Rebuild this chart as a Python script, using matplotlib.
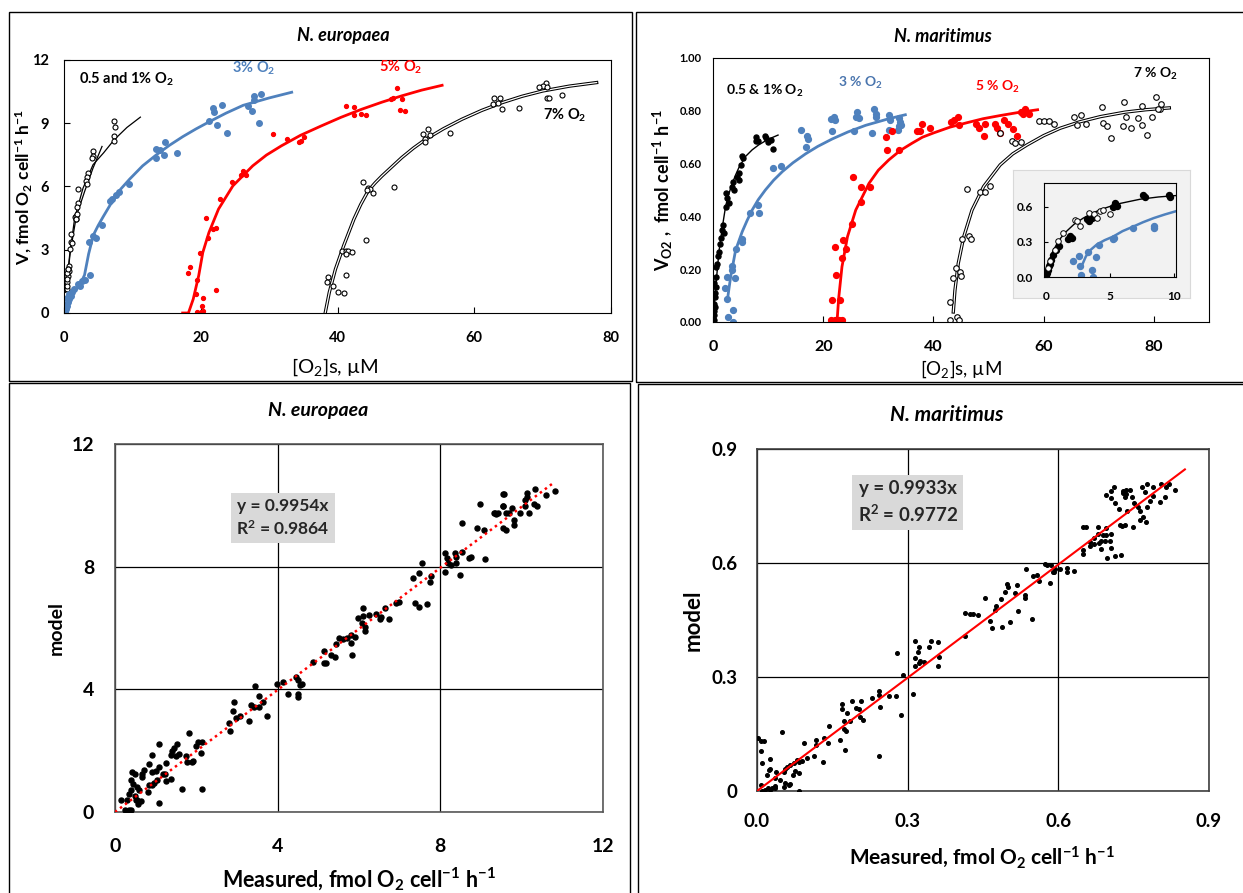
import matplotlib
matplotlib.use('Agg')
import matplotlib.pyplot as plt
from matplotlib.patches import Rectangle

plt.rcParams['font.family'] = ['Lato', 'DejaVu Sans']
plt.rcParams['font.weight'] = 'bold'
plt.rcParams['mathtext.default'] = 'regular'

W, H = 1243, 893
BLUE = '#4F81BD'
RED = '#FF0000'

# ---------------- data ----------------
# N. europaea, rate vs [O2] (top left)
eu_low_x = [7.35, 7.47, 7.35, 7.35, 4.29, 4.24, 4.12, 3.53, 3.41, 3.24, 3.41, 2.12, 2.06, 1.94,
            1.65, 1.76, 1.06, 1.06, 0.88, 0.71, 0.59, 0.59, 0.47, 0.41, 0.29, 0.18, 0.12, 0.06,
            1.8, 1.9, 1.7, 1.2, 0.8, 0.5, 0.45, 0.35, 0.25, 0.1, 0.05, 0.15, 0.05, 0.55, 0.4]
eu_low_y = [9.11, 8.80, 8.40, 8.16, 7.69, 7.45, 7.33, 6.66, 6.43, 6.27, 6.11, 5.87, 5.24, 5.01,
            4.53, 4.45, 3.74, 3.35, 3.03, 2.24, 2.08, 1.77, 1.45, 1.14, 0.82, 0.51, 0.27, 0.11,
            4.6, 4.7, 4.45, 3.3, 2.0, 1.9, 1.6, 0.9, 0.6, 0.35, 0.2, 0.0, 0.05, 2.1, 1.3]
eu_c1_x = [0, 0.34, 0.83, 1.56, 2.78, 4.24, 5.8, 7.32, 9.2, 11.17]
eu_c1_y = [0, 1.18, 2.76, 4.5, 5.92, 7.03, 7.6, 8.21, 8.8, 9.29]
eu_c2_x = [0, 0.34, 0.93, 1.8, 3.02, 4.24, 5.56]
eu_c2_y = [0, 1.18, 2.92, 4.58, 5.77, 6.87, 7.9]

eu_3_x = [28.8, 27.8, 27.8, 26.9, 27.5, 28.5, 23.1, 21.8, 21.9, 21.2, 22.4, 23.8, 14.8, 13.4, 14.1,
          13.5, 14.6, 16.5, 9.5, 8.06, 7.65, 7.06, 6.7, 5.6, 4.7, 4.2, 3.65, 3.8, 3.06, 2.65, 2.06,
          2.35, 1.47, 1.18, 1.06, 0.7, 0.6, 0.47, 0.29, 0.18, 0.35, 0.8, 0.5, 0.2]
eu_3_y = [10.4, 10.3, 10.1, 9.8, 9.6, 9.0, 9.85, 9.7, 9.55, 9.1, 8.9, 8.55, 8.13, 7.8, 7.74,
          7.37, 7.5, 7.58, 6.14, 5.72, 5.6, 5.4, 5.32, 4.17, 3.58, 3.66, 3.35, 1.82, 1.58, 1.5, 1.37,
          1.3, 1.14, 0.98, 0.82, 0.66, 0.5, 0.35, 0.19, 0.06, 0.27, 0.9, 0.7, 0.3]
eu_3c_x = [0, 0.5, 1.2, 2.2, 3.0, 3.6, 4.3, 5.0, 5.7, 7.2, 8.3, 9.6, 11.5, 13.5, 15.4, 17.4, 19.3,
           21.3, 23.7, 26.2, 30.0, 33.3]
eu_3c_y = [0, 0.5, 0.95, 1.25, 1.8, 2.8, 3.7, 4.15, 4.55, 5.37, 5.88, 6.35, 6.98, 7.5, 7.95, 8.37,
           8.73, 9.08, 9.48, 9.85, 10.2, 10.47]

eu_5_x = [48.7, 48.1, 47.8, 49.4, 49.1, 49.9, 41.2, 42.4, 42.4, 43.4, 44.1, 30.5, 32.6, 35.1, 34.7,
          34.4, 24.6, 26.2, 26.6, 25.9, 22.8, 20.7, 21.8, 22.2, 21.1, 19.9, 18.5, 18.2, 19.4, 19.3,
          20.4, 22.2, 20.2, 19.5, 20.0, 20.3]
eu_5_y = [10.65, 10.2, 10.14, 10.14, 9.62, 9.58, 9.82, 9.79, 9.38, 9.43, 9.4, 8.5, 8.24, 8.37, 8.16,
          8.12, 6.19, 6.74, 6.54, 6.54, 5.43, 4.5, 3.98, 4.01, 3.54, 2.84, 2.16, 1.88, 1.56, 0.9,
          0.69, 1.09, 0.35, 0.03, 0.03, 0.11]
eu_5c_x = [17.35, 18.2, 18.9, 19.7, 20.3, 21.2, 22.6, 24.7, 27.6, 29.6, 31.8, 34.6, 37.6, 40.5,
           43.5, 46.5, 49.4, 52.3, 55.3]
eu_5c_y = [0, 0, 0.66, 1.77, 2.87, 3.82, 4.93, 6.03, 6.98, 7.49, 7.93, 8.43, 8.87, 9.28, 9.66,
           10.0, 10.3, 10.57, 10.8]

eu_7_x = [70.5, 70.1, 70.7, 69.4, 70.7, 71.0, 72.9, 62.9, 63.8, 62.8, 63.5, 64.1, 66.5, 56.5, 52.5,
          53.2, 53.5, 52.8, 52.8, 48.2, 43.8, 44.4, 44.7, 44.3, 45.2, 44.2, 40.7, 41.2, 41.6, 42.1,
          41.3, 41.3, 38.6, 38.4, 39.4, 40.1, 40.9]
eu_7_y = [10.9, 10.77, 10.74, 10.74, 10.19, 10.2, 10.33, 10.22, 10.19, 9.93, 9.98, 9.66, 9.74, 8.56,
          8.48, 8.72, 8.43, 8.24, 8.12, 5.98, 6.19, 5.95, 5.87, 5.83, 5.68, 3.47, 2.95, 2.92, 2.92,
          2.87, 2.8, 1.8, 1.69, 1.45, 1.26, 1.01, 0.93]
eu_7c_x = [38.2, 38.8, 39.7, 40.9, 42.4, 43.4, 44.5, 45.5, 46.5, 48.0, 49.4, 51.1, 52.9, 55.5,
           58.2, 61.1, 64.1, 67.0, 70.0, 73.9, 77.9]
eu_7c_y = [0, 0.98, 2.08, 3.19, 4.45, 5.15, 5.8, 6.17, 6.5, 6.95, 7.37, 7.82, 8.24, 8.74, 9.19,
           9.61, 9.98, 10.28, 10.53, 10.76, 10.93]

# N. maritimus, rate vs [O2] (top right)
ma_low_x = [7.73, 8.16, 7.85, 9.43, 9.55, 10.6, 10.9, 10.0, 5.3, 5.44, 5.02, 4.7, 4.4, 4.7, 3.7,
            3.5, 3.8, 2.3, 2.6, 2.9, 2.3, 1.8, 1.7, 2.0, 1.2, 1.1, 0.8, 0.6, 0.48, 0.36, 0.3, 0.18,
            0.12, 0.24, 0.48, 0.12, 0.15, 0.05, 0.3, 0.9, 1.4]
ma_low_y = [0.70, 0.687, 0.684, 0.705, 0.696, 0.69, 0.654, 0.68, 0.63, 0.62, 0.595, 0.566, 0.55,
            0.538, 0.53, 0.513, 0.50, 0.487, 0.468, 0.45, 0.437, 0.367, 0.348, 0.338, 0.297, 0.266,
            0.22, 0.17, 0.133, 0.095, 0.057, 0.025, 0.006, 0.146, 0.21, 0.07, 0.04, 0.01, 0.11,
            0.25, 0.32]
ma_lowc_x = [0, 0.3, 0.7, 1.1, 1.7, 2.3, 2.9, 3.5, 4.1, 4.7, 5.9, 7.1, 8.3, 10.0, 11.8]
ma_lowc_y = [0, 0.08, 0.18, 0.27, 0.36, 0.44, 0.487, 0.525, 0.557, 0.585, 0.627, 0.652, 0.671,
             0.692, 0.708]

ma_3_x = [21.9, 21.5, 22.2, 26.2, 25.9, 26.5, 29.2, 29.5, 29.6, 31.9, 32.2, 33.7, 33.7, 33.6, 31.9,
          28.9, 25.5, 21.6, 15.9, 17.1, 17.3, 16.9, 10.9, 12.3, 8.2, 8.3, 6.8, 5.3, 5.2, 4.2, 3.5,
          3.4, 2.6, 4.0, 2.2, 2.6, 3.6, 2.8, 3.6, 33.9, 34.1]
ma_3_y = [0.775, 0.768, 0.766, 0.794, 0.778, 0.772, 0.806, 0.789, 0.778, 0.785, 0.766, 0.772, 0.741,
          0.728, 0.728, 0.715, 0.722, 0.722, 0.728, 0.703, 0.692, 0.662, 0.582, 0.591, 0.443, 0.414,
          0.414, 0.316, 0.304, 0.275, 0.211, 0.196, 0.171, 0.167, 0.13, 0.089, 0.047, 0.019, 0.0,
          0.757, 0.745]
ma_3c_x = [2.6, 3.2, 4.1, 5.3, 6.2, 7.1, 8.2, 9.5, 11.0, 12.6, 14.5, 16.8, 19.0, 21.6, 24.5, 27.7,
           31.9, 34.9]
ma_3c_y = [0.082, 0.171, 0.272, 0.342, 0.385, 0.424, 0.463, 0.5, 0.537, 0.57, 0.603, 0.637, 0.665,
           0.693, 0.72, 0.745, 0.77, 0.785]

ma_5_x = [21.5, 22.1, 22.8, 23.4, 21.6, 23.0, 22.4, 22.2, 23.4, 24.2, 23.6, 25.3, 26.9, 26.8, 28.4,
          25.4, 31.6, 33.7, 31.4, 32.4, 37.0, 37.9, 37.6, 39.4, 43.2, 43.8, 44.5, 44.7, 47.8, 48.3,
          49.1, 49.4, 51.2, 51.5, 52.1, 52.8, 53.6, 54.5, 55.2, 55.9, 56.7, 57.3, 56.2]
ma_5_y = [0.009, 0.009, 0.009, 0.009, 0.085, 0.085, 0.177, 0.285, 0.244, 0.276, 0.31, 0.371, 0.456,
          0.513, 0.513, 0.548, 0.652, 0.652, 0.70, 0.724, 0.725, 0.75, 0.724, 0.734, 0.759, 0.766,
          0.778, 0.747, 0.751, 0.734, 0.705, 0.751, 0.751, 0.734, 0.715, 0.766, 0.751, 0.73, 0.705,
          0.797, 0.806, 0.787, 0.789]
ma_5c_x = [22.5, 22.8, 23.4, 24.4, 25.9, 28.3, 30.0, 31.9, 34.0, 36.1, 38.0, 40.0, 43.0, 46.1,
           49.0, 52.1, 55.5, 58.9]
ma_5c_y = [0, 0.089, 0.209, 0.323, 0.424, 0.525, 0.575, 0.614, 0.65, 0.677, 0.70, 0.716, 0.738,
           0.755, 0.77, 0.782, 0.794, 0.804]

ma_7_x = [43.0, 44.2, 44.7, 43.0, 43.5, 44.1, 44.8, 45.0, 45.2, 46.5, 46.8, 46.1, 48.5, 49.4, 50.2,
          52.1, 54.2, 54.8, 55.9, 59.1, 60.1, 60.9, 61.9, 65.5, 66.7, 66.1, 67.6, 70.6, 70.8, 71.5,
          72.2, 74.5, 74.4, 75.0, 75.9, 77.1, 77.8, 77.9, 78.7, 79.6, 80.3, 81.1, 81.3, 80.7]
ma_7_y = [0.009, 0.019, 0.006, 0.076, 0.168, 0.203, 0.19, 0.173, 0.313, 0.325, 0.316, 0.503, 0.494,
          0.494, 0.515, 0.715, 0.684, 0.677, 0.68, 0.763, 0.762, 0.763, 0.751, 0.776, 0.785, 0.747,
          0.751, 0.814, 0.753, 0.743, 0.696, 0.832, 0.743, 0.775, 0.735, 0.771, 0.817, 0.746, 0.71,
          0.775, 0.853, 0.805, 0.825, 0.805]
ma_7c_x = [43.6, 43.9, 44.5, 45.5, 47.0, 49.1, 52.1, 54.4, 57.0, 60.0, 63.0, 66.5, 70.3, 74.8,
           78.5, 82.8]
ma_7c_y = [0.038, 0.12, 0.222, 0.323, 0.424, 0.513, 0.595, 0.637, 0.671, 0.706, 0.734, 0.758,
           0.778, 0.795, 0.804, 0.811]

# inset, 0-10 uM
in_fill_x = [7.64, 7.77, 9.6, 9.69, 5.42, 5.55, 5.29, 3.59, 3.4, 3.25, 1.88, 1.75, 2.02, 1.05, 0.84,
             0.58, 0.45, 0.26, 0.18, 0.1, 0.05, 0.3]
in_fill_y = [0.70, 0.685, 0.70, 0.68, 0.628, 0.606, 0.592, 0.501, 0.473, 0.492, 0.345, 0.323, 0.331,
             0.266, 0.232, 0.19, 0.147, 0.096, 0.062, 0.034, 0.01, 0.11]
in_open_x = [2.28, 2.41, 3.4, 3.77, 4.24, 4.5, 5.03, 1.36, 0.97, 0.71, 0.31, 0.18, 2.67, 3.98]
in_open_y = [0.487, 0.473, 0.543, 0.538, 0.558, 0.566, 0.538, 0.374, 0.303, 0.232, 0.133, 0.076,
             0.436, 0.501]
in_blue_x = [2.15, 2.59, 2.67, 2.75, 3.32, 3.59, 3.66, 3.93, 4.19, 5.29, 5.37, 6.86, 8.43, 8.5]
in_blue_y = [0.133, 0.175, 0.09, 0.014, 0.209, 0.062, 0.0, 0.167, 0.275, 0.323, 0.331, 0.416, 0.43,
             0.416]
in_kc_x = [0, 0.1, 0.31, 0.55, 0.84, 1.2, 1.62, 2.2, 2.93, 3.6, 4.24, 5.55, 7.38, 8.8, 10.18]
in_kc_y = [0.006, 0.06, 0.147, 0.215, 0.275, 0.335, 0.388, 0.447, 0.501, 0.54, 0.572, 0.62, 0.662,
           0.681, 0.693]
in_bc_x = [2.8, 3.14, 3.5, 3.98, 4.6, 5.29, 6.0, 6.86, 7.6, 8.43, 9.3, 10.18]
in_bc_y = [0.09, 0.175, 0.23, 0.275, 0.313, 0.345, 0.39, 0.43, 0.466, 0.501, 0.532, 0.56]

# model vs measured, N. europaea (bottom left)
eu_meas = [9.56, 8.97, 9.34, 9.38, 9.54, 9.61, 8.54, 8.89, 9.07, 9.53, 8.11, 8.16, 8.35, 8.39, 8.54,
           8.71, 8.76, 8.19, 8.27, 8.39, 8.11, 8.49, 9.09, 7.56, 7.47, 7.33, 7.78, 7.74, 7.37, 7.47,
           7.67, 6.92, 6.98, 6.63, 6.73, 6.42, 6.55, 6.52, 6.09, 5.97, 6.09, 6.24, 6.08, 6.14, 6.14,
           5.89, 5.81, 5.7, 5.6, 5.52, 5.44, 5.81, 5.83, 4.86, 5.13, 5.13, 5.19, 5.31, 5.42, 4.44,
           4.49, 4.55, 4.6, 3.98, 4.14, 4.25, 4.49, 4.49, 3.45, 3.55, 3.34, 3.42, 3.55, 3.63, 2.93,
           2.91, 2.97, 3.07, 3.3, 3.74, 2.81, 2.83, 1.81, 2.03, 2.14, 1.99, 2.11, 1.89, 1.91, 1.74,
           1.78, 1.53, 1.45, 1.41, 1.58, 1.49, 1.37, 1.25, 1.07, 0.9, 0.84, 1.08, 1.17, 1.25, 1.37,
           1.23, 1.0, 0.92, 0.9, 0.96, 1.04, 0.71, 0.67, 0.66, 0.43, 0.49, 0.39, 0.44, 0.55, 0.59,
           0.39, 0.34, 0.49, 0.55, 0.63, 0.57, 0.51, 0.14, 0.3, 0.25, 0.34, 0.39, 1.64, 2.14, 1.07,
           0.84, 0.8, 10.59, 10.81, 10.32, 10.12, 10.14, 10.07, 10.3, 10.37, 10.17, 10.07, 9.97,
           9.77, 9.7, 9.82, 9.8, 9.62, 9.53, 9.43, 9.31, 9.55]
eu_model = [10.37, 10.03, 9.74, 9.72, 9.98, 9.76, 9.41, 9.27, 9.19, 9.25, 8.43, 8.27, 8.43, 8.32,
            8.49, 8.27, 8.3, 8.11, 8.05, 8.13, 7.81, 7.73, 8.25, 8.11, 7.78, 7.64, 7.69, 7.51, 6.82,
            6.69, 6.78, 6.82, 6.86, 6.64, 6.28, 6.45, 6.37, 6.28, 6.64, 6.31, 6.39, 6.42, 6.15, 6.02,
            5.91, 5.71, 5.77, 5.66, 5.63, 5.69, 5.47, 5.52, 5.11, 4.9, 5.26, 4.86, 4.86, 5.11, 5.04,
            4.41, 4.3, 4.13, 4.16, 4.19, 4.24, 3.84, 3.86, 3.75, 4.1, 3.78, 3.48, 3.43, 3.43, 3.59,
            3.59, 3.3, 3.08, 3.12, 2.97, 3.13, 2.91, 2.63, 2.56, 2.29, 2.29, 2.14, 1.94, 1.63, 1.66,
            1.82, 1.63, 2.21, 2.1, 1.99, 1.88, 1.82, 1.85, 1.6, 2.23, 1.85, 1.56, 1.47, 1.25, 1.01,
            1.09, 1.25, 1.33, 1.31, 0.87, 0.95, 1.03, 1.36, 1.14, 1.25, 1.31, 1.25, 1.03, 0.92, 0.82,
            0.71, 0.73, 0.6, 0.51, 0.4, 0.36, 0.27, 0.38, 0.38, 0.4, 0.05, 0.08, 0.05, 0.74, 0.74,
            0.3, 0.87, 0.65, 10.34, 10.47, 10.52, 10.39, 10.28, 10.17, 10.04, 9.98, 9.76, 9.98, 9.76,
            9.9, 9.74, 9.52, 9.36, 9.2, 9.98, 9.76, 9.76, 10.37]
eu_slope, eu_r2 = 0.9954, 0.9864
eu_fit_x = [0, 10.8]

# model vs measured, N. maritimus (bottom right)
ma_meas = [0.695, 0.705, 0.711, 0.704, 0.713, 0.728, 0.732, 0.735, 0.72, 0.737, 0.722, 0.726, 0.732,
           0.649, 0.656, 0.679, 0.695, 0.679, 0.689, 0.705, 0.672, 0.664, 0.671, 0.68, 0.685, 0.693,
           0.702, 0.685, 0.704, 0.649, 0.649, 0.697, 0.713, 0.725, 0.664, 0.695, 0.573, 0.578,
           0.536, 0.55, 0.558, 0.561, 0.583, 0.589, 0.594, 0.603, 0.618, 0.618, 0.632, 0.585, 0.592,
           0.497, 0.499, 0.517, 0.493, 0.513, 0.533, 0.533, 0.454, 0.485, 0.475, 0.474, 0.52, 0.503,
           0.468, 0.487, 0.464, 0.548, 0.414, 0.424, 0.43, 0.44, 0.414, 0.315, 0.322, 0.32, 0.315,
           0.325, 0.333, 0.347, 0.361, 0.342, 0.362, 0.36, 0.315, 0.322, 0.279, 0.29, 0.31, 0.242,
           0.243, 0.245, 0.228, 0.262, 0.276, 0.287, 0.207, 0.189, 0.17, 0.169, 0.179, 0.198, 0.203,
           0.205, 0.212, 0.185, 0.174, 0.174, 0.177, 0.144, 0.166, 0.176, 0.134, 0.141, 0.118,
           0.117, 0.114, 0.132, 0.093, 0.099, 0.089, 0.083, 0.079, 0.073, 0.066, 0.06, 0.075, 0.083,
           0.071, 0.053, 0.055, 0.038, 0.026, 0.02, 0.023, 0.05, 0.026, 0.001, 0.007, 0.013, 0.007,
           0.009, 0.243, 0.036, 0.046, 0.056, 0.063, 0.066, 0.053, 0.035, 0.03, 0.022, 0.026, 0.015,
           0.01, 0.083, 0.036, 0.007, 0.82, 0.814, 0.832, 0.805, 0.789, 0.776, 0.766, 0.772, 0.788,
           0.782, 0.777, 0.803, 0.813, 0.758, 0.762, 0.768, 0.774, 0.762, 0.749, 0.747, 0.751,
           0.743, 0.735, 0.729]
ma_model = [0.78, 0.789, 0.80, 0.77, 0.758, 0.789, 0.773, 0.782, 0.741, 0.736, 0.701, 0.697, 0.701,
            0.694, 0.694, 0.694, 0.692, 0.677, 0.675, 0.677, 0.666, 0.656, 0.649, 0.653, 0.657,
            0.657, 0.657, 0.638, 0.64, 0.633, 0.624, 0.612, 0.618, 0.62, 0.644, 0.675, 0.598, 0.594,
            0.584, 0.565, 0.569, 0.552, 0.547, 0.576, 0.583, 0.585, 0.587, 0.576, 0.58, 0.594, 0.576,
            0.545, 0.536, 0.541, 0.525, 0.521, 0.517, 0.508, 0.508, 0.506, 0.486, 0.477, 0.475,
            0.446, 0.429, 0.431, 0.448, 0.453, 0.468, 0.466, 0.466, 0.464, 0.407, 0.394, 0.378,
            0.366, 0.35, 0.343, 0.339, 0.394, 0.392, 0.378, 0.352, 0.328, 0.33, 0.337, 0.363, 0.306,
            0.255, 0.262, 0.253, 0.222, 0.246, 0.251, 0.251, 0.199, 0.237, 0.237, 0.228, 0.216,
            0.205, 0.218, 0.216, 0.196, 0.187, 0.183, 0.183, 0.163, 0.158, 0.172, 0.134, 0.108,
            0.139, 0.126, 0.134, 0.121, 0.093, 0.076, 0.126, 0.086, 0.079, 0.077, 0.082, 0.073,
            0.069, 0.064, 0.053, 0.047, 0.042, 0.051, 0.058, 0.051, 0.058, 0.042, 0.055, 0.155,
            0.084, 0.139, 0.132, 0.132, 0.105, 0.073, 0.091, 0.033, 0.029, 0.02, 0.016, 0.018, 0.011,
            0.014, 0.009, 0.007, 0.003, 0.003, 0.0, 0.001, 0.007, 0.016, 0.809, 0.80, 0.793, 0.809,
            0.80, 0.809, 0.80, 0.788, 0.777, 0.762, 0.747, 0.76, 0.775, 0.747, 0.736, 0.721, 0.709,
            0.714, 0.696, 0.774, 0.758, 0.793, 0.793, 0.784]
ma_slope, ma_r2 = 0.9933, 0.9772
ma_fit_x = [0, 0.852]

# tick labels
tl_xticks = [0, 20, 40, 60, 80]
tl_xlabels = ['0', '20', '40', '60', '80']
tl_yticks = [0, 3, 6, 9, 12]
tl_ylabels = ['0', '3', '6', '9', '12']
tr_xticks = [0, 20, 40, 60, 80]
tr_xlabels = ['0', '20', '40', '60', '80']
tr_yticks = [0, 0.2, 0.4, 0.6, 0.8, 1.0]
tr_ylabels = ['0.00', '0.20', '0.40', '0.60', '0.80', '1.00']
in_xticks = [0, 5, 10]
in_xlabels = ['0', '5', '10']
in_yticks = [0, 0.3, 0.6]
in_ylabels = ['0.0', '0.3', '0.6']
eu_ticks = [0, 4, 8, 12]
eu_ticklabels = ['0', '4', '8', '12']
ma_ticks = [0, 0.3, 0.6, 0.9]
ma_xticklabels = ['0.0', '0.3', '0.6', '0.9']
ma_yticklabels = ['0', '0.3', '0.6', '0.9']


# ---------------- helpers ----------------
def rect(x0, y0, x1, y1):
    return [x0 / W, 1 - y1 / H, (x1 - x0) / W, (y1 - y0) / H]


def ftext(x, y, s, **kw):
    kw.setdefault('ha', 'center')
    kw.setdefault('va', 'center')
    fig.text(x / W, 1 - y / H, s, **kw)


fig = plt.figure(figsize=(W / 100, H / 100), dpi=100)

# panel frames
for x0, y0, x1, y1 in [(9, 12, 632, 381), (636, 12, 1250, 382), (9, 383, 630, 900), (638, 384, 1250, 900)]:
    fig.patches.append(Rectangle((x0 / W, 1 - y1 / H), (x1 - x0) / W, (y1 - y0) / H,
                                 transform=fig.transFigure, fill=False, ec='black', lw=1.0))

# ---- top left: N. europaea kinetics ----
ax = fig.add_axes(rect(64, 60, 611, 313))
ax.plot(eu_c1_x, eu_c1_y, color='black', lw=0.9)
ax.plot(eu_c2_x, eu_c2_y, color='black', lw=0.9)
ax.plot(eu_low_x, eu_low_y, 'o', mfc='white', mec='black', mew=0.8, ms=3.6)
ax.plot(eu_3c_x, eu_3c_y, color=BLUE, lw=2.0)
ax.plot(eu_3_x, eu_3_y, 'o', color=BLUE, ms=4.0)
ax.plot(eu_5c_x, eu_5c_y, color=RED, lw=2.0)
ax.plot(eu_5_x, eu_5_y, 'o', color=RED, ms=2.8)
ax.plot(eu_7c_x, eu_7c_y, color='black', lw=2.4)
ax.plot(eu_7c_x, eu_7c_y, color='white', lw=0.9)
ax.plot(eu_7_x, eu_7_y, 'o', mfc='white', mec='black', mew=0.8, ms=3.6)
ax.set_xlim(0, 80)
ax.set_ylim(0, 12)
ax.set_xticks(tl_xticks, tl_xlabels)
ax.set_yticks(tl_yticks, tl_ylabels)
ax.tick_params(axis='x', direction='in', length=4, pad=13, labelsize=10.5)
ax.tick_params(axis='y', direction='in', length=4, pad=11, labelsize=10.5)
ax.text(2.2, 11.1, '0.5 and 1% O$_2$', fontsize=10.5, va='center')
ax.text(27.8, 11.6, '3% O$_2$', fontsize=10.5, color=BLUE, ha='center', va='center')
ax.text(49.2, 11.65, '5% O$_2$', fontsize=10.5, color=RED, ha='center', va='center')
ax.text(73.3, 9.4, '7% O$_2$', fontsize=10.5, ha='center', va='center')
ftext(343, 35, 'N. europaea', fontsize=13, style='italic')
ftext(335, 367, '[O$_2$]s, µM', fontsize=14.5, fontweight='normal')
ftext(24, 187, 'V, fmol O$_2$ cell$^{-1}$ h$^{-1}$', fontsize=12.5, rotation=90)

# ---- top right: N. maritimus kinetics ----
ax = fig.add_axes(rect(713, 58, 1209, 322))
ax.plot(ma_lowc_x, ma_lowc_y, color='black', lw=1.0)
ax.plot(ma_low_x, ma_low_y, 'o', color='black', ms=3.6)
ax.plot(ma_3c_x, ma_3c_y, color=BLUE, lw=2.0)
ax.plot(ma_3_x, ma_3_y, 'o', color=BLUE, ms=4.2)
ax.plot(ma_5c_x, ma_5c_y, color=RED, lw=2.0)
ax.plot(ma_5_x, ma_5_y, 'o', color=RED, ms=4.2)
ax.plot(ma_7c_x, ma_7c_y, color='black', lw=2.4)
ax.plot(ma_7c_x, ma_7c_y, color='white', lw=0.9)
ax.plot(ma_7_x, ma_7_y, 'o', mfc='white', mec='black', mew=0.8, ms=4.0)
ax.set_xlim(0, 90)
ax.set_ylim(0, 1.0)
ax.set_xticks(tr_xticks, tr_xlabels)
ax.set_yticks(tr_yticks, tr_ylabels)
ax.tick_params(axis='x', direction='in', length=4, pad=13, labelsize=11.5)
ax.tick_params(axis='y', direction='in', length=0, pad=8, labelsize=8)
ax.text(2.4, 0.875, '0.5 & 1% O$_2$', fontsize=10, va='center')
ax.text(26.8, 0.906, '3 % O$_2$', fontsize=10, color='#4A75AE', ha='center', va='center')
ax.text(51.6, 0.89, '5 % O$_2$', fontsize=10, color=RED, ha='center', va='center')
ax.text(80.2, 0.94, '7 % O$_2$', fontsize=10, ha='center', va='center')
ftext(943, 37, 'N. maritimus', fontsize=13, style='italic')
ftext(961, 369, '[O$_2$]s, µM', fontsize=13.5, fontweight='normal')
ftext(663, 190, 'V$_{O2}$ ,  fmol cell$^{-1}$ h$^{-1}$', fontsize=13, rotation=90)

# inset box and inset
box = fig.add_axes(rect(1013, 170, 1190, 298))
box.set_facecolor('#F2F2F2')
box.set_xticks([])
box.set_yticks([])
for s in box.spines.values():
    s.set_color('#D9D9D9')
box.set_zorder(2)
ax = fig.add_axes(rect(1044, 183, 1176, 277))
ax.set_zorder(3)
ax.set_facecolor('#F2F2F2')
ax.plot(in_kc_x, in_kc_y, color='black', lw=1.0)
ax.plot(in_bc_x, in_bc_y, color=BLUE, lw=1.8)
ax.plot(in_fill_x, in_fill_y, 'o', color='black', ms=4.3)
ax.plot(in_open_x, in_open_y, 'o', mfc='white', mec='black', mew=0.7, ms=4.0)
ax.plot(in_blue_x, in_blue_y, 'o', color=BLUE, ms=4.3)
ax.set_xlim(-0.13, 10.18)
ax.set_ylim(0, 0.8)
ax.set_xticks(in_xticks, in_xlabels)
ax.set_yticks(in_yticks, in_ylabels)
ax.tick_params(axis='x', direction='in', length=3, pad=10, labelsize=8.5)
ax.tick_params(axis='y', direction='in', length=3, pad=8, labelsize=8.5)

# ---- bottom left: model vs measured, N. europaea ----
ax = fig.add_axes(rect(115, 444, 603, 812))
ax.grid(True, color='black', lw=0.9)
ax.set_axisbelow(True)
ax.plot(eu_meas, eu_model, 'o', color='black', ms=3.6, zorder=3)
ax.plot(eu_fit_x, [eu_slope * v for v in eu_fit_x], color=RED, lw=1.8, ls=(0, (1, 1.5)), zorder=4)
ax.set_xlim(0, 12)
ax.set_ylim(0, 12)
ax.set_xticks(eu_ticks, eu_ticklabels)
ax.set_yticks(eu_ticks, eu_ticklabels)
ax.tick_params(axis='x', length=0, pad=19, labelsize=14)
ax.tick_params(axis='y', length=0, pad=15, labelsize=14)
for s in ax.spines.values():
    s.set_color('#595959')
    s.set_linewidth(1.2)
ax.text(4.13, 9.59, 'y = %.4fx\nR$^2$ = %.4f' % (eu_slope, eu_r2), fontsize=12.5,
        ha='center', va='center', linespacing=1.35, color='#262626',
        bbox=dict(boxstyle='square,pad=0.3', fc='#D9D9D9', ec='none'), zorder=5)
ftext(318, 410, 'N. europaea', fontsize=14, style='italic')
ftext(359, 879, 'Measured, fmol O$_2$ cell$^{-1}$ h$^{-1}$', fontsize=15.5)
ftext(56, 628, 'model', fontsize=14, rotation=90)

# ---- bottom right: model vs measured, N. maritimus ----
ax = fig.add_axes(rect(757, 449, 1209, 791))
ax.grid(True, color='black', lw=0.9)
ax.set_axisbelow(True)
ax.plot(ma_meas, ma_model, 'o', color='black', ms=2.6, zorder=3)
ax.plot(ma_fit_x, [ma_slope * v for v in ma_fit_x], color=RED, lw=1.5, zorder=4)
ax.set_xlim(0, 0.9)
ax.set_ylim(0, 0.9)
ax.set_xticks(ma_ticks, ma_xticklabels)
ax.set_yticks(ma_ticks, ma_yticklabels)
ax.tick_params(axis='x', length=0, pad=16, labelsize=13.5)
ax.tick_params(axis='y', length=0, pad=14, labelsize=13.5)
for s in ax.spines.values():
    s.set_color('#404040')
    s.set_linewidth(1.2)
ax.text(0.30, 0.759, 'y = %.4fx\nR$^2$ = %.4f' % (ma_slope, ma_r2), fontsize=13.5,
        ha='center', va='center', linespacing=1.35, color='#262626',
        bbox=dict(boxstyle='square,pad=0.3', fc='#D9D9D9', ec='none'), zorder=5)
ftext(947, 415, 'N. maritimus', fontsize=15, style='italic')
ftext(982, 857, 'Measured, fmol O$_2$ cell$^{-1}$ h$^{-1}$', fontsize=15)
ftext(693, 620, 'model', fontsize=16, rotation=90)

fig.savefig('out.png', dpi=100)
